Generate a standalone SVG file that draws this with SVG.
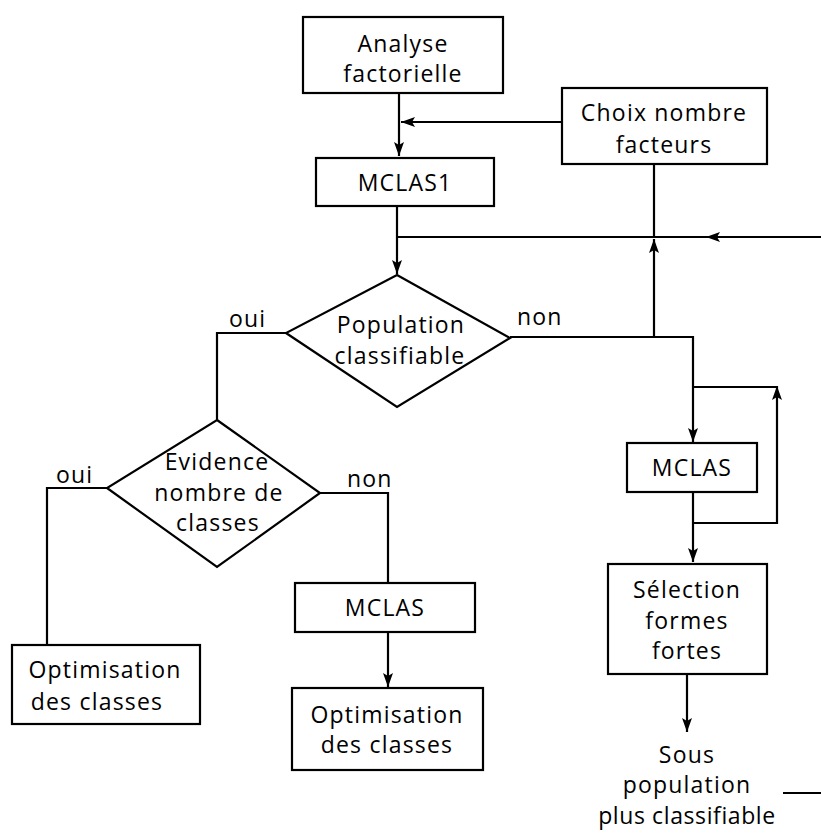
<svg xmlns="http://www.w3.org/2000/svg" width="821" height="835" viewBox="0 0 821 835">
<defs>
<marker id="arr" markerUnits="userSpaceOnUse" markerWidth="14" markerHeight="12" viewBox="0 0 14 12" refX="14" refY="6" orient="auto">
<path d="M0,1 L14,6 L0,11 L3,6 Z" fill="#000"/>
</marker>
</defs>
<style>
.box{fill:#fff;stroke:#000;stroke-width:2.2}
.ln{fill:none;stroke:#000;stroke-width:2.2}
.t{font-family:"Open Sans","Noto Sans",sans-serif;font-size:23px;font-weight:500;fill:#000;text-anchor:middle;letter-spacing:1.2px}
.l{font-family:"Open Sans","Noto Sans",sans-serif;font-size:23px;font-weight:500;fill:#000;letter-spacing:1.2px}
</style>
<rect width="821" height="835" fill="#fff"/>
<g id="connectors">
<path class="ln" d="M399,93 L399,156" marker-end="url(#arr)"/>
<path class="ln" d="M562,122 L401,122" marker-end="url(#arr)"/>
<path class="ln" d="M397,206 L397,274" marker-end="url(#arr)"/>
<path class="ln" d="M821,237 L706,237" marker-end="url(#arr)"/>
<path class="ln" d="M706,237 L397,237"/>
<path class="ln" d="M654,164 L654,237"/>
<path class="ln" d="M654,337 L654,239" marker-end="url(#arr)"/>
<path class="ln" d="M510,337 L693,337 L693,442" marker-end="url(#arr)"/>
<path class="ln" d="M693,492 L693,562" marker-end="url(#arr)"/>
<path class="ln" d="M693,523 L777,523 L777,386" marker-end="url(#arr)"/>
<path class="ln" d="M777,387 L693,387"/>
<path class="ln" d="M286,333 L217,333 L217,420"/>
<path class="ln" d="M107,488 L47,488 L47,645"/>
<path class="ln" d="M320,493 L388,493 L388,583"/>
<path class="ln" d="M388,632 L388,687" marker-end="url(#arr)"/>
<path class="ln" d="M687,674 L687,732" marker-end="url(#arr)"/>
<path class="ln" d="M783,793 L821,793"/>
</g>
<g id="analyse">
<rect class="box" x="303" y="17" width="200" height="76"/>
<text class="t" x="403" y="52">Analyse</text>
<text class="t" x="403" y="82">factorielle</text>
</g>
<g id="choix">
<rect class="box" x="562" y="88" width="205" height="76"/>
<text class="t" x="664" y="121">Choix nombre</text>
<text class="t" x="664" y="153">facteurs</text>
</g>
<g id="mclas1">
<rect class="box" x="316" y="158" width="178" height="48"/>
<text class="t" x="405" y="191">MCLAS1</text>
</g>
<g id="population">
<path class="box" d="M397,275 L510,338 L397,407 L286,333 Z"/>
<text class="t" x="401" y="333">Population</text>
<text class="t" x="400" y="364">classifiable</text>
</g>
<g id="evidence">
<path class="box" d="M217,420 L320,493 L217,567 L107,488 Z" style="fill:none"/>
<text class="t" x="217" y="470">Evidence</text>
<text class="t" x="219" y="501">nombre de</text>
<text class="t" x="218" y="531">classes</text>
</g>
<g id="mclas-right">
<rect class="box" x="627" y="443" width="130" height="49"/>
<text class="t" x="692" y="476">MCLAS</text>
</g>
<g id="selection">
<rect class="box" x="608" y="564" width="159" height="110"/>
<text class="t" x="687" y="598">Sélection</text>
<text class="t" x="687" y="629">formes</text>
<text class="t" x="687" y="659">fortes</text>
</g>
<g id="mclas-mid">
<rect class="box" x="295" y="583" width="180" height="49"/>
<text class="t" x="385" y="616">MCLAS</text>
</g>
<g id="optim-left">
<rect class="box" x="12" y="645" width="188" height="79"/>
<text class="t" x="105" y="678">Optimisation</text>
<text class="t" x="97" y="710">des classes</text>
</g>
<g id="optim-mid">
<rect class="box" x="292" y="688" width="191" height="82"/>
<text class="t" x="387" y="723">Optimisation</text>
<text class="t" x="387" y="753">des classes</text>
</g>
<g id="sous-pop">
<text class="t" x="687" y="763">Sous</text>
<text class="t" x="687" y="793">population</text>
<text class="t" x="687" y="824" style="letter-spacing:0.6px">plus classifiable</text>
</g>
<g id="labels">
<text class="l" x="229" y="327">oui</text>
<text class="l" x="517" y="325">non</text>
<text class="l" x="56" y="483">oui</text>
<text class="l" x="347" y="487">non</text>
</g>
</svg>
